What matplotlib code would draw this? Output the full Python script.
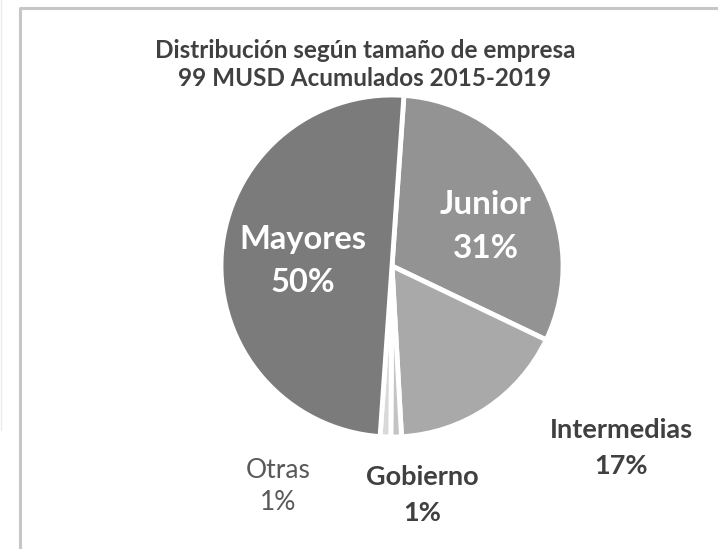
import matplotlib
matplotlib.use("Agg")
import matplotlib.pyplot as plt
from matplotlib.lines import Line2D

# Investment share by company size (percent)
categories = ["Junior", "Intermedias", "Gobierno", "Otras", "Mayores"]
shares = [31, 17, 1, 1, 50]
colors = ["#939393", "#a9a9a9", "#c4c4c4", "#d9d9d9", "#7b7b7b"]
explode = [0.035, 0, 0, 0, 0]

title_lines = ["Distribución según tamaño de empresa",
               "99 MUSD Acumulados 2015-2019"]

W, H = 718, 549
fig = plt.figure(figsize=(W / 100, H / 100), dpi=100)
ax = fig.add_axes([0, 0, 1, 1])
ax.set_xlim(0, W)
ax.set_ylim(0, H)
ax.set_aspect("equal")
ax.axis("off")

font = "Lato"

def py(y):
    return H - y

cx, cy, r = 392, 266, 171
ax.pie(shares, colors=colors, explode=explode, startangle=86,
       counterclock=False, center=(cx, py(cy)), radius=r,
       wedgeprops=dict(edgecolor="white", linewidth=3.5))
ax.set_xlim(0, W)
ax.set_ylim(0, H)

# chart frame
ax.add_line(Line2D([20, 20, W], [0, py(8), py(8)], color="#c6c6c6", lw=2.2))
ax.add_line(Line2D([0.5, 0.5], [py(0), py(430)], color="#ececec", lw=1))

dark = "#404040"
ax.text(365, py(50), title_lines[0], ha="center", va="center",
        fontsize=17.5, fontweight="bold", color=dark, family=font)
ax.text(365, py(79), title_lines[1], ha="center", va="center",
        fontsize=17.5, fontweight="bold", color=dark, family=font)

def label(x, y1, y2, name, pct, size, weight, color):
    ax.text(x, py(y1), name, ha="center", va="center", fontsize=size,
            fontweight=weight, color=color, family=font)
    ax.text(x, py(y2), f"{pct}%", ha="center", va="center", fontsize=size,
            fontweight=weight, color=color, family=font)

s = dict(zip(categories, shares))
label(303, 240, 282, "Mayores", s["Mayores"], 23.5, "bold", "white")
label(486, 205, 248, "Junior", s["Junior"], 24, "bold", "white")
label(621, 430, 466, "Intermedias", s["Intermedias"], 19.5, "bold", dark)
label(422, 477, 513, "Gobierno", s["Gobierno"], 19.5, "bold", dark)
label(278, 470, 503, "Otras", s["Otras"], 19, "normal", "#595959")

fig.savefig("out.png", dpi=100, facecolor="white")
